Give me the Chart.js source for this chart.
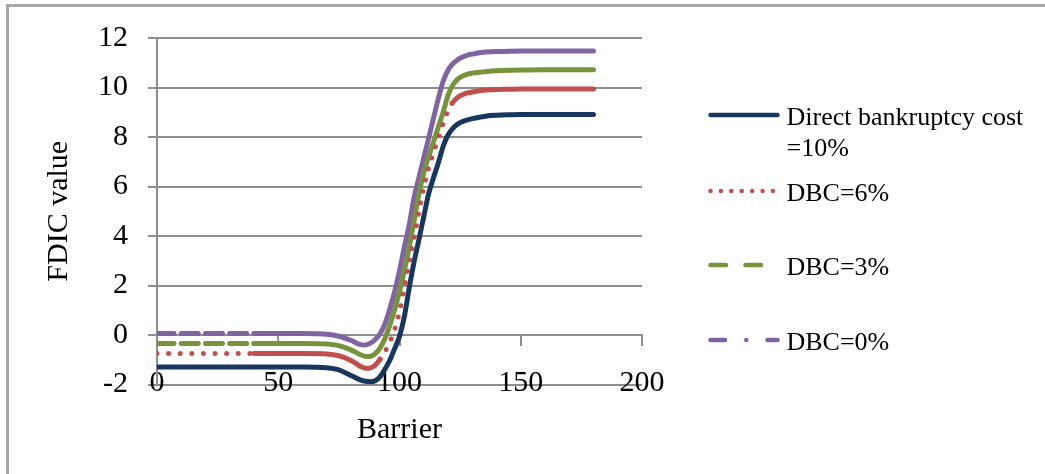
<!DOCTYPE html>
<html>
<head>
<meta charset="utf-8">
<script src="https://cdn.jsdelivr.net/npm/chart.js@4/dist/chart.umd.min.js"></script>
<style>
  html, body { margin: 0; padding: 0; background: #fff; overflow: hidden; }
  #wrap { position: relative; width: 1045px; height: 474px; }
  #frame { position: absolute; left: 6px; top: 4px; width: 1200px; height: 700px;
           border: 3px solid #a6a6a6; box-sizing: border-box; }
  #c { position: absolute; left: 0; top: 0; }
</style>
</head>
<body>
<div id="wrap">
  <div id="frame"></div>
  <canvas id="c" width="1045" height="474"></canvas>
</div>
<script>
// Barrier levels (x) and FDIC value for each direct bankruptcy cost level
const barrier = [0, 10, 20, 30, 40, 50, 60,
  70, 75, 80, 84, 86, 88,
  90, 92, 94, 96, 98,
  100, 102, 104, 106, 108, 110, 112, 114, 116, 118, 120, 122, 124, 126, 128,
  130, 133, 136, 140, 145, 150,
  160, 170, 180];

const dbc10 = [-1.29, -1.29, -1.29, -1.29, -1.29, -1.29, -1.29,
  -1.32, -1.41, -1.64, -1.82, -1.87, -1.89,
  -1.85, -1.68, -1.38, -1.02, -0.55,
  -0.05, 0.75, 1.90, 2.95, 3.85, 4.78, 5.70, 6.35, 6.95, 7.62, 8.08, 8.35, 8.52, 8.62, 8.69,
  8.74, 8.80, 8.85, 8.88, 8.90, 8.91,
  8.91, 8.91, 8.91];

const dbc6 = [-0.75, -0.75, -0.75, -0.75, -0.75, -0.75, -0.75,
  -0.77, -0.84, -1.03, -1.27, -1.34, -1.33,
  -1.22, -0.98, -0.68, -0.28, 0.22,
  0.95, 1.95, 2.95, 3.90, 4.95, 5.95, 6.75, 7.35, 7.95, 8.55, 9.05, 9.40, 9.60, 9.71, 9.78,
  9.82, 9.87, 9.90, 9.92, 9.93, 9.94,
  9.94, 9.94, 9.94];

const dbc3 = [-0.34, -0.34, -0.34, -0.34, -0.34, -0.34, -0.34,
  -0.36, -0.43, -0.60, -0.80, -0.87, -0.86,
  -0.75, -0.52, -0.14, 0.40, 1.02,
  1.75, 2.60, 3.55, 4.60, 5.70, 6.55, 7.20, 7.80, 8.40, 9.00, 9.68, 10.10, 10.34, 10.46, 10.54,
  10.58, 10.62, 10.65, 10.68, 10.70, 10.71,
  10.72, 10.72, 10.72];

const dbc0 = [0.06, 0.06, 0.06, 0.06, 0.06, 0.06, 0.06,
  0.03, -0.05, -0.22, -0.39, -0.40, -0.33,
  -0.18, 0.05, 0.45, 1.05, 1.75,
  2.60, 3.55, 4.45, 5.55, 6.35, 7.15, 7.95, 8.75, 9.55, 10.25, 10.70, 10.96, 11.12, 11.23, 11.31,
  11.35, 11.40, 11.43, 11.45, 11.46, 11.47,
  11.47, 11.47, 11.47];

const seriesLabels = [["Direct bankruptcy cost", "=10%"], ["DBC=6%"], ["DBC=3%"], ["DBC=0%"]];
const yTicks = [-2, 0, 2, 4, 6, 8, 10, 12];
const xTicks = [0, 50, 100, 150, 200];
const xTitle = "Barrier";
const yTitle = "FDIC value";

const SERIF = "'Liberation Serif', 'Times New Roman', serif";
const GRID = '#8e8e8e';

const toPoints = vals => barrier.map((x, i) => ({ x: x, y: vals[i] }));

// dash patterns: on the sparse left part the pattern restarts every 10 units
const dashedLeft = pattern => ctx => (ctx.p0.parsed.x < 40 ? pattern : undefined);

const datasets = [
  {
    label: seriesLabels[0].join(' '), data: toPoints(dbc10),
    borderColor: '#17375e', legendDash: []
  },
  {
    label: seriesLabels[1].join(' '), data: toPoints(dbc6),
    borderColor: '#c0504d', legendDash: [0.01, 10.4],
    segment: {
      borderDash: ctx => {
        const x = ctx.p0.parsed.x;
        return (x < 40 || (x >= 92 && x < 122)) ? [0.01, 11.6] : undefined;
      }
    }
  },
  {
    label: seriesLabels[2].join(' '), data: toPoints(dbc3),
    borderColor: '#77933c', legendDash: [15.5, 19.5],
    segment: { borderDash: dashedLeft([17, 7.24]) }
  },
  {
    label: seriesLabels[3].join(' '), data: toPoints(dbc0),
    borderColor: '#8064a2', legendDash: [14.5, 21.25, 0.01, 21.25],
    segment: { borderDash: dashedLeft([17, 7.24]) }
  }
].map(ds => Object.assign({
  borderWidth: 5,
  borderDash: [],
  borderCapStyle: 'round',
  borderJoinStyle: 'round',
  pointRadius: 0,
  pointHoverRadius: 0,
  fill: false,
  cubicInterpolationMode: 'monotone'
}, ds));

// Legend drawn at the right of the plot, one row per series
const legendRows = [
  { lineY: 115, textY: [125, 155.5] },
  { lineY: 191, textY: [200.5] },
  { lineY: 265, textY: [275] },
  { lineY: 340, textY: [350] }
];

const sideLegend = {
  id: 'sideLegend',
  afterDraw(chart) {
    const ctx = chart.ctx;
    ctx.save();
    chart.data.datasets.forEach((ds, i) => {
      const row = legendRows[i];
      ctx.beginPath();
      ctx.strokeStyle = ds.borderColor;
      ctx.lineWidth = 4.5;
      ctx.lineCap = 'round';
      ctx.setLineDash(ds.legendDash);
      ctx.moveTo(710.5, row.lineY);
      ctx.lineTo(777.5, row.lineY);
      ctx.stroke();
      ctx.setLineDash([]);
      ctx.fillStyle = '#000';
      ctx.font = "26px " + SERIF;
      ctx.textAlign = 'left';
      ctx.textBaseline = 'alphabetic';
      seriesLabels[i].forEach((t, k) => ctx.fillText(t, 786.5, row.textY[k]));
    });
    ctx.restore();
  }
};

new Chart(document.getElementById('c'), {
  type: 'line',
  data: { datasets: datasets },
  options: {
    responsive: false,
    devicePixelRatio: 1,
    animation: false,
    events: [],
    layout: { padding: { left: 0, top: 38, right: 403, bottom: 89.5 } },
    plugins: { legend: { display: false }, tooltip: { enabled: false } },
    scales: {
      x: {
        type: 'linear',
        min: 0, max: 200,
        position: { y: 0 },
        afterBuildTicks: s => { s.ticks = xTicks.map(v => ({ value: v })); },
        ticks: {
          color: '#000', font: { family: SERIF, size: 30 },
          padding: 20, maxRotation: 0, autoSkip: false
        },
        grid: { drawOnChartArea: false, drawTicks: true, tickLength: 10, color: GRID, lineWidth: 2 },
        border: { display: true, color: GRID, width: 2 },
        title: {
          display: true, text: xTitle, color: '#000',
          font: { family: SERIF, size: 30 }, padding: { top: -9, bottom: 0 }
        }
      },
      y: {
        min: -2, max: 12,
        afterBuildTicks: s => { s.ticks = yTicks.map(v => ({ value: v })); },
        ticks: { color: '#000', font: { family: SERIF, size: 30 }, padding: 20 },
        grid: { color: GRID, lineWidth: 2, tickLength: 9 },
        border: { display: true, color: GRID, width: 2 },
        title: {
          display: true, text: yTitle, color: '#000',
          font: { family: SERIF, size: 30 }, padding: { top: 41, bottom: 41 }
        },
        afterFit: s => { s.width = 157; }
      }
    }
  },
  plugins: [sideLegend]
});
</script>
</body>
</html>
